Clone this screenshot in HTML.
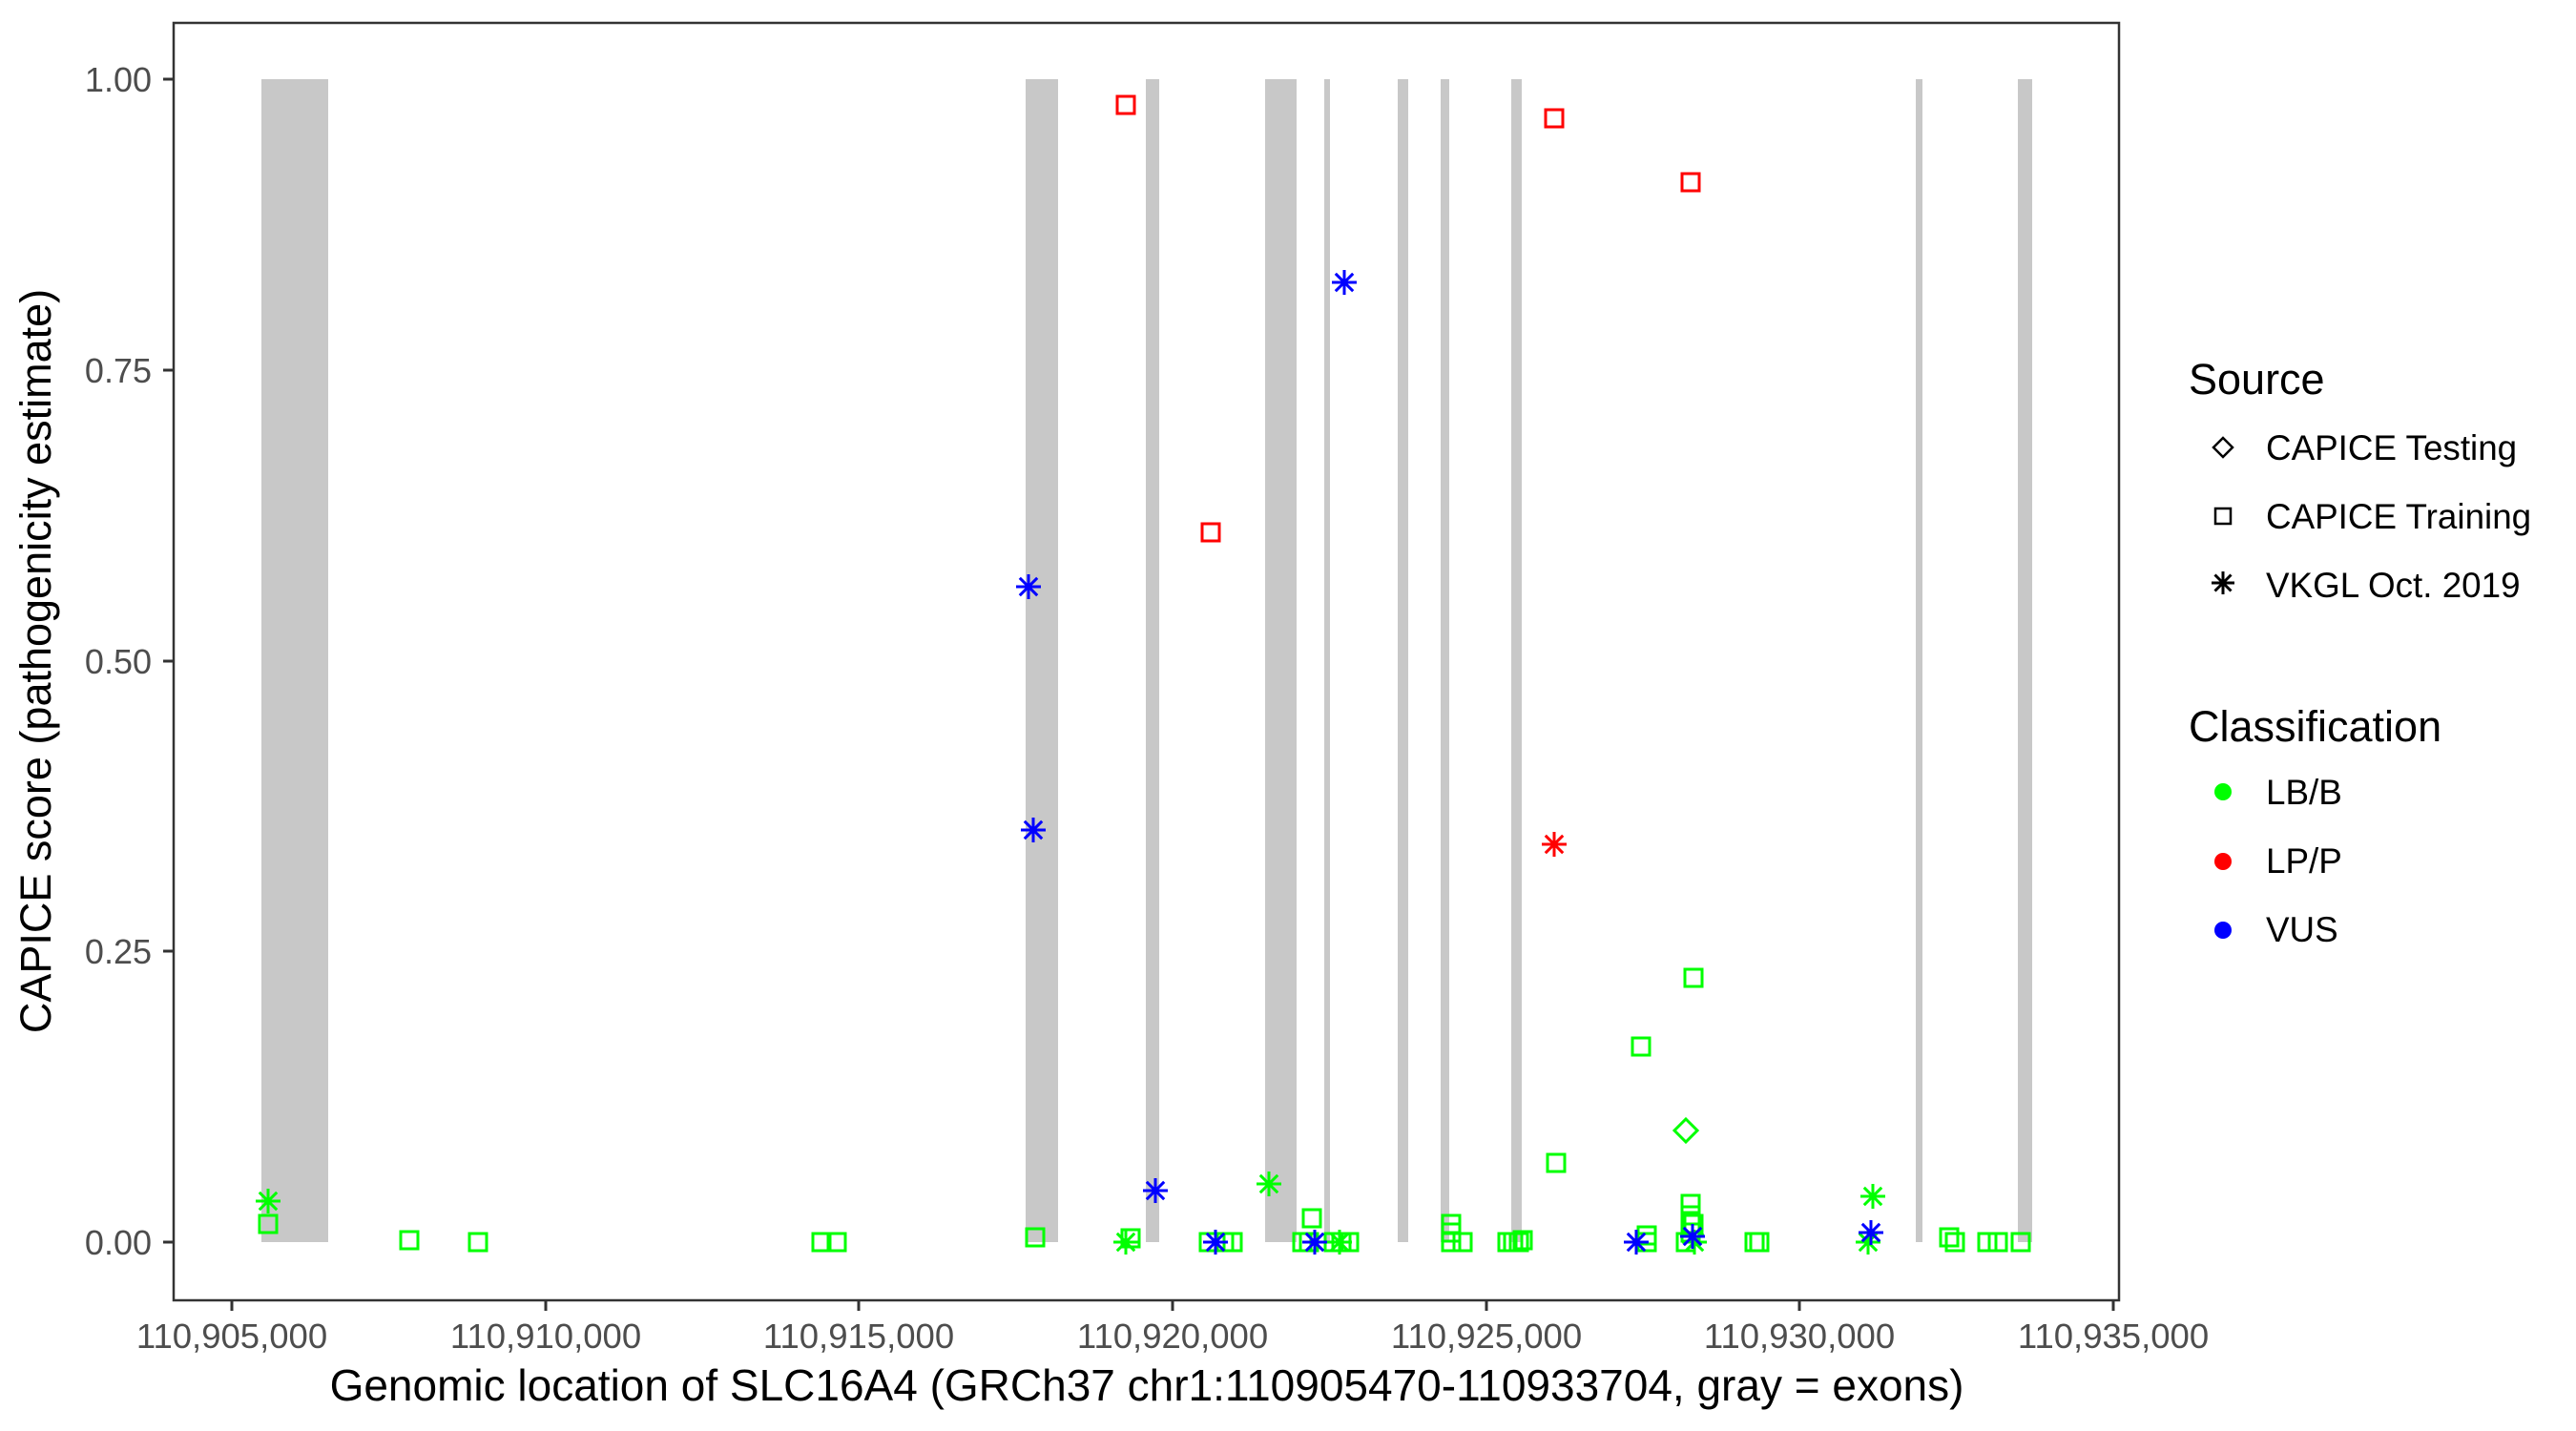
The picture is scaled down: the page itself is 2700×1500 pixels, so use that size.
<!DOCTYPE html>
<html><head><meta charset="utf-8"><style>
html,body{margin:0;padding:0;background:#fff;}
svg{display:block;}
text{font-family:"Liberation Sans",sans-serif;}
</style></head><body>
<svg width="2700" height="1500" viewBox="0 0 2700 1500" xmlns="http://www.w3.org/2000/svg">
<defs>
<g id="sq"><rect x="-9" y="-9" width="18" height="18" fill="none" stroke-width="3"/></g>
<g id="st"><path d="M-13 0H13M0-13V13M-9.2-9.2L9.2 9.2M-9.2 9.2L9.2-9.2" fill="none" stroke-width="3"/></g>
<g id="dm"><path d="M0-12L12 0L0 12L-12 0Z" fill="none" stroke-width="3"/></g>
</defs>
<rect width="2700" height="1500" fill="#fff"/>
<g fill="#c8c8c8">
<rect x="274" y="83" width="70" height="1219"/>
<rect x="1075" y="83" width="34" height="1219"/>
<rect x="1201" y="83" width="14" height="1219"/>
<rect x="1326" y="83" width="33" height="1219"/>
<rect x="1388" y="83" width="6" height="1219"/>
<rect x="1465" y="83" width="11" height="1219"/>
<rect x="1510" y="83" width="9" height="1219"/>
<rect x="1584" y="83" width="11" height="1219"/>
<rect x="2008" y="83" width="7" height="1219"/>
<rect x="2115" y="83" width="15" height="1219"/>
</g>
<g stroke="#00ff00">
<use href="#st" x="281" y="1259"/>
<use href="#sq" x="281" y="1283"/>
<use href="#sq" x="429" y="1300"/>
<use href="#sq" x="501" y="1302"/>
<use href="#sq" x="861" y="1302"/>
<use href="#sq" x="877" y="1302"/>
<use href="#sq" x="1085" y="1297"/>
<use href="#st" x="1180" y="1302"/>
<use href="#sq" x="1185" y="1298"/>
<use href="#sq" x="1267" y="1302"/>
<use href="#sq" x="1283" y="1302"/>
<use href="#sq" x="1292" y="1302"/>
<use href="#st" x="1330" y="1241"/>
<use href="#sq" x="1375" y="1277"/>
<use href="#sq" x="1365" y="1302"/>
<use href="#sq" x="1372" y="1302"/>
<use href="#sq" x="1398" y="1302"/>
<use href="#sq" x="1406" y="1302"/>
<use href="#st" x="1404" y="1302"/>
<use href="#sq" x="1414" y="1302"/>
<use href="#sq" x="1521" y="1283"/>
<use href="#sq" x="1521" y="1292"/>
<use href="#sq" x="1521" y="1302"/>
<use href="#sq" x="1533" y="1302"/>
<use href="#sq" x="1580" y="1302"/>
<use href="#sq" x="1586" y="1302"/>
<use href="#sq" x="1592" y="1302"/>
<use href="#sq" x="1596" y="1300"/>
<use href="#sq" x="1631" y="1219"/>
<use href="#sq" x="1720" y="1097"/>
<use href="#sq" x="1726" y="1295"/>
<use href="#sq" x="1726" y="1302"/>
<use href="#sq" x="1775" y="1025"/>
<use href="#dm" x="1767" y="1185"/>
<use href="#sq" x="1772" y="1262"/>
<use href="#sq" x="1772" y="1274"/>
<use href="#sq" x="1775" y="1283"/>
<use href="#sq" x="1772" y="1292"/>
<use href="#sq" x="1767" y="1302"/>
<use href="#st" x="1776" y="1302"/>
<use href="#sq" x="1839" y="1302"/>
<use href="#sq" x="1844" y="1302"/>
<use href="#st" x="1963" y="1254"/>
<use href="#st" x="1958" y="1302"/>
<use href="#sq" x="2043" y="1297"/>
<use href="#sq" x="2049" y="1302"/>
<use href="#sq" x="2083" y="1302"/>
<use href="#sq" x="2094" y="1302"/>
<use href="#sq" x="2118" y="1302"/>
</g>
<g stroke="#ff0000">
<use href="#sq" x="1180" y="110"/>
<use href="#sq" x="1269" y="558"/>
<use href="#sq" x="1629" y="124"/>
<use href="#st" x="1629" y="885"/>
<use href="#sq" x="1772" y="191"/>
</g>
<g stroke="#0000ff">
<use href="#st" x="1078" y="615"/>
<use href="#st" x="1083" y="870"/>
<use href="#st" x="1211" y="1248"/>
<use href="#st" x="1274" y="1302"/>
<use href="#st" x="1378" y="1302"/>
<use href="#st" x="1409" y="296"/>
<use href="#st" x="1715" y="1302"/>
<use href="#st" x="1774" y="1296"/>
<use href="#st" x="1961" y="1292"/>
</g>
<rect x="182" y="24" width="2039" height="1339" fill="none" stroke="#333" stroke-width="2.5"/>
<g stroke="#333" stroke-width="3">
<path d="M171 83H182M171 388H182M171 693H182M171 997H182M171 1302H182"/>
<path d="M243 1363V1374M572 1363V1374M900 1363V1374M1229 1363V1374M1558 1363V1374M1886 1363V1374M2215 1363V1374"/>
</g>
<g fill="#4d4d4d" font-size="36" text-anchor="end">
<text x="159" y="96">1.00</text>
<text x="159" y="401">0.75</text>
<text x="159" y="706">0.50</text>
<text x="159" y="1010">0.25</text>
<text x="159" y="1315">0.00</text>
</g>
<g fill="#4d4d4d" font-size="36.5" text-anchor="middle">
<text x="243" y="1413">110,905,000</text>
<text x="572" y="1413">110,910,000</text>
<text x="900" y="1413">110,915,000</text>
<text x="1229" y="1413">110,920,000</text>
<text x="1558" y="1413">110,925,000</text>
<text x="1886" y="1413">110,930,000</text>
<text x="2215" y="1413">110,935,000</text>
</g>
<text x="1202" y="1468" font-size="46" text-anchor="middle" fill="#000">Genomic location of SLC16A4 (GRCh37 chr1:110905470-110933704, gray = exons)</text>
<text transform="translate(53,693) rotate(-90)" font-size="45" text-anchor="middle" fill="#000">CAPICE score (pathogenicity estimate)</text>
<text x="2294" y="413" font-size="45" fill="#000">Source</text>
<g stroke="#000">
<path d="M2330 459L2340 469L2330 479L2320 469Z" fill="none" stroke-width="2.5"/>
<rect x="2322" y="533" width="16" height="16" fill="none" stroke-width="2.5"/>
<path d="M2318 611H2342M2330 599V623M2321.5 602.5L2338.5 619.5M2321.5 619.5L2338.5 602.5" stroke-width="3" fill="none"/>
</g>
<g font-size="36.8" fill="#000">
<text x="2375" y="482">CAPICE Testing</text>
<text x="2375" y="554">CAPICE Training</text>
<text x="2375" y="626">VKGL Oct. 2019</text>
</g>
<text x="2294" y="777" font-size="45" fill="#000">Classification</text>
<circle cx="2330" cy="830" r="9" fill="#00ff00"/>
<circle cx="2330" cy="903" r="9" fill="#ff0000"/>
<circle cx="2330" cy="975" r="9" fill="#0000ff"/>
<g font-size="36.8" fill="#000">
<text x="2375" y="843">LB/B</text>
<text x="2375" y="915">LP/P</text>
<text x="2375" y="987">VUS</text>
</g>
</svg>
</body></html>
